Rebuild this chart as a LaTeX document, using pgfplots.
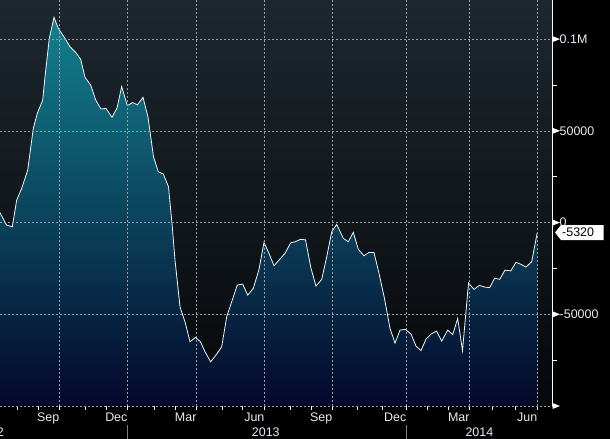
\documentclass[border=0pt]{standalone}
\usepackage{pgfplots}
\pgfplotsset{compat=1.18}
\usepackage{pgfplotstable}
\usepackage{fontspec}
\setmainfont{Liberation Sans}
\definecolor{bgtop}{HTML}{1D272F}
\definecolor{bgmid}{HTML}{0D1114}
\definecolor{bgbot}{HTML}{06080A}
\definecolor{filltop}{HTML}{12808F}
\definecolor{fillmid}{HTML}{0A4A6C}
\definecolor{fillbot}{HTML}{04082A}
\definecolor{lab}{HTML}{E4ECF2}
\definecolor{gridc}{HTML}{9A9EA2}

\pgfplotstableread{
x v
0 5450
6.5 -1360
12.3 -2290
16.7 12270
21.7 18650
27.7 28630
33.3 51370
37.3 59540
42.7 66800
45 79500
49.3 100440
54 111890
58.3 105890
65 100440
70 95860
76 92590
80.7 88990
85 79170
90.7 74980
95.7 66800
101 61890
106 62270
112 57360
117 62430
121.7 74160
127.3 63800
132.7 65430
137.5 64230
143 68270
148 57530
153.5 35880
158.3 27700
163.3 26450
168.5 19520
172.3 -2290
175 -20450
180 -45910
185 -54090
190 -65000
195.5 -62600
200.5 -65000
205 -70450
210.7 -75900
216.7 -71700
221.7 -67720
226.7 -51370
231.7 -43190
237.3 -34080
242.7 -33540
247.7 -39530
253.3 -35880
259 -25520
264 -10800
269 -16790
274 -23560
279 -20450
285 -16790
290.7 -11010
295 -10470
300.5 -9160
305.5 -9380
311 -24970
316 -34630
321.7 -30970
326.7 -18650
331.7 -5020
336.7 -980
343.3 -8620
348.3 -10470
353.3 -5340
358.3 -14610
364 -18100
369 -16250
374 -16360
379 -27700
384.5 -41440
390 -57690
395 -65710
400 -58620
405.5 -58240
411 -60800
416 -67340
421 -69800
426 -63530
431 -60800
436.5 -59160
441.7 -64620
447.7 -58620
452.7 -61070
457.7 -52240
462.5 -69800
468.5 -32990
474 -36420
479.3 -34240
484.7 -35170
489.7 -35440
494.7 -30260
499.7 -30970
505 -25900
510.8 -26340
516 -21650
521 -22790
526 -24260
531.7 -21370
537.3 -5320
}\netpos

\begin{document}
\begin{tikzpicture}[x=1bp,y=1bp]
\fill[black] (-400,-400) rectangle (1200,1200);
\begin{axis}[
  width=552.5bp, height=406bp, scale only axis,
  xmin=0, xmax=552.5, ymin=-100000, ymax=121350,
  axis on top, clip=false,
  axis background/.style={shade, top color=bgtop, middle color=bgmid, bottom color=bgbot},
  axis x line*=bottom, axis y line*=right,
  x axis line style={draw=gridc, dash pattern=on 2bp off 2bp, line width=0.5bp},
  y axis line style={draw=white, line width=0.8bp},
  xtick={59.4,127.6,196.6,264.6,332.5,406.5,469.7,537.5},
  xticklabels={Sep,Dec,Mar,Jun,Sep,Dec,Mar,Jun},
  minor xtick={17,38.5,85.7,106,154,175,222.7,242.7,290.7,311,357.2,381.8,427.6,448.6,492.3,514.9},
  ytick={-100000,-50000,0,50000,100000},
  yticklabels={,-50000,0,50000,0.1M},
  minor ytick={-75000,-25000,25000,75000},
  scaled y ticks=false,
  tick align=outside,
  major tick length=4bp, minor tick length=4bp,
  xtick style={draw=white, line width=0.6bp},
  ytick style={draw=white, line width=0.8bp},
  grid=major,
  major grid style={draw=gridc, dash pattern=on 2bp off 2bp, line width=0.5bp},
  tick label style={font=\fontsize{12.5}{14}\selectfont, text=lab},
  xticklabel style={anchor=base east, inner sep=0pt, yshift=-11bp},
  yticklabel style={anchor=west, inner sep=0pt, xshift=3bp},
]
\addplot[draw=none, shade, top color=filltop, middle color=fillmid, bottom color=fillbot]
  table[x=x, y=v] {\netpos} -- (axis cs:537.3,-100000) -- (axis cs:0,-100000) -- cycle;
\addplot[color=white!92!cyan, line width=0.8bp] table[x=x, y=v] {\netpos};
\coordinate (LL) at (rel axis cs:0,0);
\end{axis}
\begin{scope}[shift={(LL)}, yshift=-33bp]
% y-axis tick triangles
\foreach \yy in {33,124.7,216.4,308.2,399.9}
  \fill[white] (552.5,\yy+3) -- (560,\yy) -- (552.5,\yy-3) -- cycle;
% last value box
\fill[white] (555,206.5) -- (561,214) -- (603.5,214) -- (603.5,199) -- (561,199) -- cycle;
\node[anchor=west, inner sep=0pt, font=\fontsize{12.5}{14}\selectfont, text=black] at (562,206.5) {-5320};
% year row
\draw[gray, line width=0.8bp] (127.6,0) -- (127.6,14);
\draw[gray, line width=0.8bp] (406.5,0) -- (406.5,14);
\node[anchor=base east, inner sep=0pt, font=\fontsize{12.5}{14}\selectfont, text=lab] at (4,2.5) {2012};
\node[anchor=base, inner sep=0pt, font=\fontsize{12.5}{14}\selectfont, text=lab] at (265.8,2.5) {2013};
\node[anchor=base, inner sep=0pt, font=\fontsize{12.5}{14}\selectfont, text=lab] at (479.4,2.5) {2014};
\end{scope}
\pgfresetboundingbox
\useasboundingbox ([yshift=-33bp]LL) rectangle ([xshift=610bp, yshift=406bp]LL);
\end{tikzpicture}
\end{document}
